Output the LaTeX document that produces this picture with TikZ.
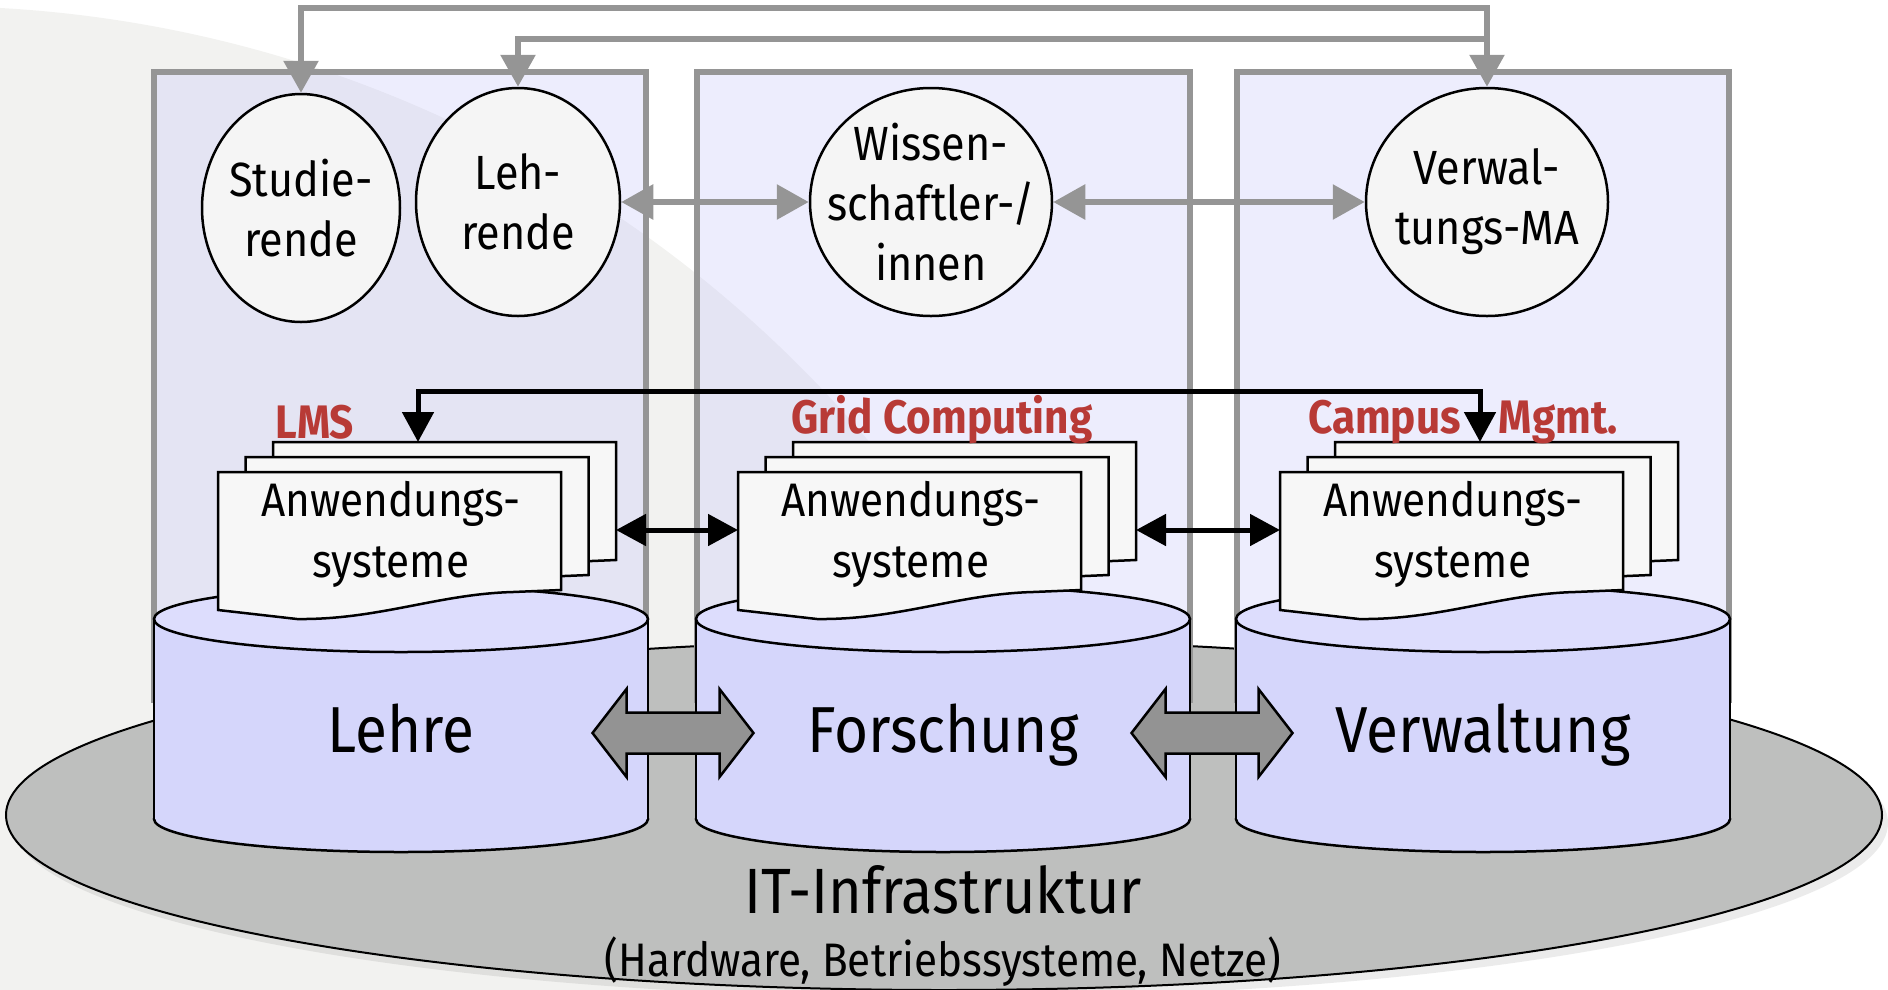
\documentclass[tikz,border=0pt]{standalone}
\usepackage{fontspec}
\setmainfont[FakeStretch=0.9]{Fira Sans}
\usetikzlibrary{shapes.geometric,positioning,calc}
\usetikzlibrary{arrows.meta}

\definecolor{grauline}{RGB}{149,149,149}
\definecolor{hintergrund}{RGB}{242,242,240}
\definecolor{saeulenfarbe}{RGB}{204,204,249}
\definecolor{zylfarbe}{RGB}{213,214,251}
\definecolor{deckelfarbe}{RGB}{221,221,253}
\definecolor{itgrau}{RGB}{190,191,190}
\definecolor{blattweiss}{RGB}{247,247,247}
\definecolor{kreisweiss}{RGB}{245,245,245}
\definecolor{rotlabel}{RGB}{184,58,54}
\definecolor{pfeilgrau}{RGB}{147,147,147}

\tikzstyle{person} = [ellipse, draw=black, line width=2.5pt, fill=kreisweiss,
inner sep=0pt, minimum height=228pt]
\tikzstyle{personentext} = [align=center, inner sep=0pt, font=\fontsize{48}{60}\selectfont]
\tikzstyle{saeule} = [draw=grauline, line width=6pt, fill=saeulenfarbe, fill opacity=0.35]
\tikzstyle{zylrand} = [draw=black, line width=2.5pt]
\tikzstyle{zyltext} = [anchor=base, font=\fontsize{65}{72}\selectfont]
\tikzstyle{blatt} = [draw=black, line width=2.5pt, fill=blattweiss]
\tikzstyle{anwtext} = [align=center, inner sep=0pt, font=\fontsize{47}{61}\selectfont]
\tikzstyle{systemname} = [anchor=base, text=rotlabel, font=\fontsize{47}{56}\selectfont\bfseries]
\tikzstyle{blockpfeil} = [draw=black, line width=2.5pt, fill=pfeilgrau, line join=miter]
\tikzstyle{grauarrow} = [draw=grauline, line width=6pt, >={Triangle[length=32pt,width=34pt]}]
\tikzstyle{schwarzarrow} = [draw=black, line width=5pt, >={Triangle[length=30pt,width=31pt]}]

\tikzset{
  anwstapel/.pic={
    \draw[blatt] (55,-30) -- (398,-30) -- (398,88) -- (350,90) .. controls (275,92) and (215,118) .. (134,117) -- (55,108) -- cycle;
    \draw[blatt] (27.5,-15) -- (370.5,-15) -- (370.5,103) -- (322.5,105) .. controls (247.5,107) and (187.5,133) .. (106.5,132) -- (27.5,123) -- cycle;
    \draw[blatt] (0,0) -- (343,0) -- (343,118) -- (295,120) .. controls (220,122) and (160,148) .. (79,147) -- (0,138) -- cycle;
    \node[anwtext] (-text) at (173,62) {Anwendungs-\\systeme};
    \coordinate (-in) at (200,-30);
    \coordinate (-e) at (398,58);
    \coordinate (-w) at (0,58);
  },
  zylinder/.pic={
    \draw[zylrand, fill=zylfarbe] (247,200) ellipse (247 and 33);
    \fill[zylfarbe] (0,0) rectangle (494,200);
    \draw[zylrand] (0,0) -- (0,200) (494,0) -- (494,200);
    \draw[zylrand, fill=deckelfarbe] (247,0) ellipse (247 and 33);
  },
  doppelpfeil/.pic={
    \draw[blockpfeil] (-80.5,0) -- (-46.5,-44) -- (-46.5,-20.5) -- (46.5,-20.5) -- (46.5,-44) -- (80.5,0)
      -- (46.5,44) -- (46.5,20.5) -- (-46.5,20.5) -- (-46.5,44) -- cycle;
  }
}

\begin{document}
\begin{tikzpicture}[x=1pt, y=-1pt]
\useasboundingbox (0,0) rectangle (1888,989);
% hintergrund
\begin{scope}
  \clip (0,0) rectangle (1888,989);
  \fill[hintergrund] (-70,1236) circle (1230);
  \fill[black, opacity=0.08] (950,823) ellipse (938 and 175);
\end{scope}
\node[ellipse, draw=black, line width=2pt, fill=itgrau, minimum width=1876pt, minimum height=350pt] (it) at (944,815) {};

% drei saeulen
\draw[saeule] (154,72) rectangle (646,700);
\draw[saeule] (697,72) rectangle (1190,700);
\draw[saeule] (1237,72) rectangle (1729,700);

\pic at (154,619) {zylinder};
\pic at (696,619) {zylinder};
\pic at (1236,619) {zylinder};
\node[zyltext] (lehre) at (401,752) {Lehre};
\node[zyltext] (forschung) at (943,752) {Forschung};
\node[zyltext] (verwaltung) at (1483,752) {Verwaltung};

\pic at (673,733) {doppelpfeil};
\pic at (1212,733) {doppelpfeil};

% anwendungssysteme
\pic (lms) at (218,472) {anwstapel};
\pic (grid) at (738,472) {anwstapel};
\pic (campus) at (1280,472) {anwstapel};
\node[systemname] (lmsname) at (315,438) {LMS};
\node[systemname] (gridname) at (942,433) {Grid Computing};
\node[systemname] (campusname) at (1463,433) {Campus\hspace{38pt}Mgmt.};

% personen
\node[person, minimum width=198pt] (stud) at (301,208) {};
\node[person, minimum width=204pt] (lehr) at (518,202) {};
\node[person, minimum width=242pt] (wiss) at (931,202) {};
\node[person, minimum width=242pt] (verw) at (1487,202) {};
\node[personentext] (studtext) at (stud) {Studie-\\rende};
\node[personentext] (lehrtext) at (lehr) {Leh-\\rende};
\node[personentext] (wisstext) at (wiss) {Wissen-\\schaftler-/\\innen};
\node[personentext] (verwtext) at (verw) {Verwal-\\tungs-MA};

\draw[grauarrow, <->] (stud) -- (301,8) -- (1487,8) -- (verw);
\draw[grauarrow, ->] (1487,39) -- (518,39) -- (lehr);
\draw[grauarrow, <->] (lehr) -- (wiss);
\draw[grauarrow, <->] (wiss) -- (verw);

\draw[schwarzarrow, <->] (lms-in) -- (418,391) -- (1480,391) -- (campus-in);
\draw[schwarzarrow, <->] (lms-e) -- (grid-w);
\draw[schwarzarrow, <->] (grid-e) -- (campus-w);

\node[anchor=base, font=\fontsize{64}{72}\selectfont] (ittext) at (943,913) {IT-Infrastruktur};
\node[anchor=base, font=\fontsize{47}{52}\selectfont] (itdetail) at (943,976) {(Hardware, Betriebssysteme, Netze)};
\end{tikzpicture}
\end{document}
